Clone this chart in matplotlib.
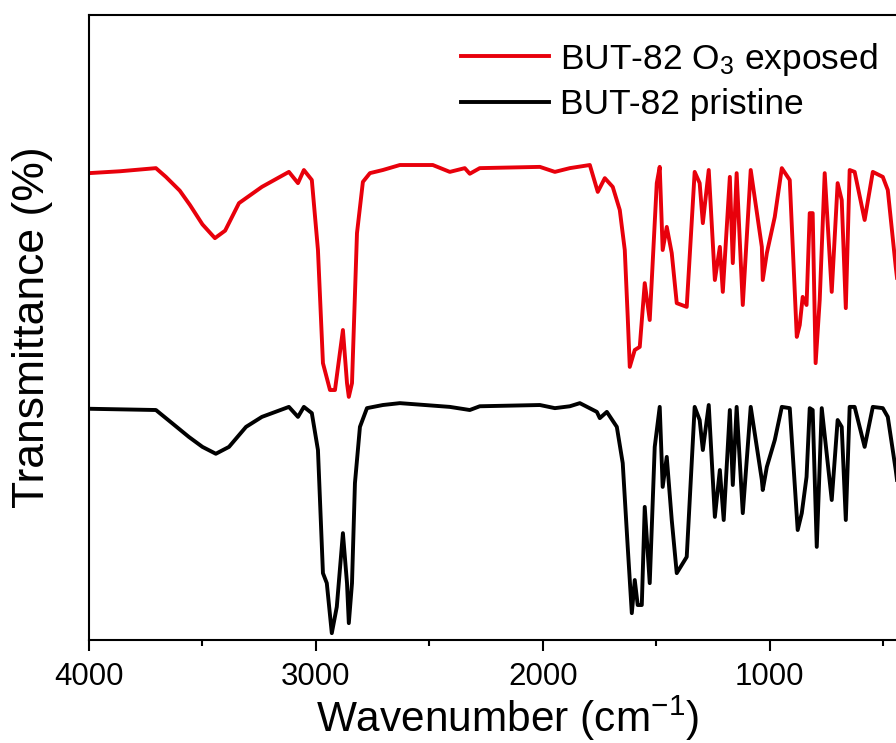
import matplotlib
matplotlib.use("Agg")
import matplotlib.pyplot as plt
from matplotlib.ticker import MultipleLocator

plt.rcParams['font.family'] = ['Liberation Sans', 'DejaVu Sans']
plt.rcParams['mathtext.fontset'] = 'custom'
plt.rcParams['mathtext.rm'] = 'Liberation Sans'
plt.rcParams['mathtext.it'] = 'Liberation Sans:italic'

# BUT-82 after O3 exposure (offset trace)
wn_exposed = [4000, 3863, 3705, 3661, 3600, 3555, 3500, 3445, 3400, 3339, 3238, 3119, 3079, 3053, 3018,
              2991, 2969, 2938, 2916, 2881, 2863, 2855, 2841, 2819, 2793, 2762, 2705,
              2630, 2485, 2410, 2344, 2322, 2278, 2013, 1947, 1881, 1793, 1758, 1727,
              1692, 1661, 1639, 1626, 1617, 1595, 1573, 1551, 1529, 1498, 1485, 1472,
              1454, 1432, 1410, 1366, 1331, 1309, 1295, 1269, 1242, 1220, 1207, 1176,
              1163, 1146, 1119, 1084, 1035, 1031, 1013, 978, 947, 912, 881, 868, 855,
              838, 824, 811, 798, 780, 758, 727, 701, 683, 665, 648, 626, 582, 546,
              502, 480, 445, 428]
t_exposed = [74.7, 75.0, 75.5, 74.1, 71.9, 69.6, 66.5, 64.3, 65.5, 69.9, 72.5, 74.9, 73.1, 75.2, 73.6,
             62.4, 44.3, 40.0, 40.0, 49.6, 41.1, 38.9, 41.1, 65.1, 73.3, 74.7, 75.2,
             76.0, 76.0, 74.9, 75.5, 74.6, 75.5, 75.7, 74.9, 75.5, 76.0, 71.7, 73.9,
             72.5, 68.8, 62.4, 51.7, 43.7, 46.4, 46.9, 57.1, 51.2, 73.1, 75.7, 62.4,
             66.1, 61.9, 53.9, 53.3, 74.9, 73.1, 66.7, 75.2, 57.6, 62.9, 55.7, 74.1,
             60.3, 74.7, 53.6, 75.2, 62.9, 57.6, 61.9, 67.7, 75.5, 73.6, 48.5, 50.4, 54.9,
             53.6, 68.3, 68.3, 44.3, 54.4, 74.7, 55.7, 73.1, 70.4, 53.1, 75.2, 74.9, 67.2, 74.9,
             74.1, 72.0, 59.7, 54.4]

# BUT-82 pristine
wn_pristine = [4000, 3705, 3634, 3560, 3500, 3441, 3383, 3308, 3238, 3119, 3079, 3053, 3018,
               2991, 2969, 2952, 2930, 2908, 2881, 2863, 2855, 2841, 2828, 2806, 2775,
               2705, 2630, 2410, 2322, 2278, 2013, 1947, 1881, 1837, 1762, 1749, 1718,
               1674, 1648, 1626, 1608, 1595, 1582, 1564, 1551, 1529, 1507, 1485, 1472,
               1454, 1432, 1410, 1366, 1331, 1309, 1295, 1269, 1242, 1220, 1203, 1176,
               1163, 1146, 1119, 1084, 1035, 1031, 1013, 978, 947, 912, 877, 859, 838,
               824, 811, 793, 771, 727, 701, 683, 665, 648, 626, 582, 546, 502, 480,
               445, 428]
t_pristine = [37.0, 36.8, 34.7, 32.5, 30.9, 29.8, 30.9, 34.1, 35.7, 37.3, 35.7, 37.3, 36.3,
              30.4, 10.7, 9.1, 1.1, 5.3, 17.1, 9.1, 2.7, 9.1, 25.1, 34.1, 37.1,
              37.6, 37.9, 37.3, 36.8, 37.4, 37.6, 37.1, 37.4, 37.9, 36.5, 35.5, 36.5,
              34.1, 28.3, 14.9, 4.3, 9.6, 5.6, 5.6, 21.3, 9.1, 30.9, 37.3, 24.5,
              29.3, 19.2, 10.7, 13.3, 37.3, 35.2, 30.4, 37.6, 19.7, 27.2, 19.2, 36.8,
              24.8, 37.3, 20.3, 37.3, 25.6, 24.0, 27.7, 32.0, 37.3, 37.1, 17.6, 20.3, 26.1,
              37.1, 36.8, 14.9, 37.1, 22.4, 35.2, 34.1, 19.2, 37.3, 37.3, 30.9, 37.3, 37.1, 35.7,
              27.2, 22.4]

fig = plt.figure(figsize=(8.96, 7.43), dpi=100)
ax = fig.add_axes([0.0993, 0.1386, 0.9118, 0.8412])

ax.plot(wn_exposed, t_exposed, color='#e8000b', lw=2.8, solid_joinstyle='round',
        label='BUT-82 O$_3$ exposed')
ax.plot(wn_pristine, t_pristine, color='black', lw=2.8, solid_joinstyle='round',
        label='BUT-82 pristine')

ax.set_xlim(4000, 400)
ax.set_ylim(0, 100)
ax.xaxis.set_major_locator(MultipleLocator(1000))
ax.xaxis.set_minor_locator(MultipleLocator(500))
ax.set_yticks([])
ax.tick_params(axis='x', which='major', length=8, width=1.5, labelsize=22.5, pad=8)
ax.tick_params(axis='x', which='minor', length=4, width=1.5)
for s in ax.spines.values():
    s.set_linewidth(1.5)

ax.set_xlabel('Wavenumber (cm$^{-1}$)', fontsize=30.5)
ax.xaxis.set_label_coords(0.512, -0.086)
ax.set_ylabel('Transmittance (%)', fontsize=32, labelpad=26)

ax.legend(loc='upper right', bbox_to_anchor=(1.015, 0.988), bbox_transform=fig.transFigure,
          frameon=False, fontsize=25.5, handlelength=2.5, handletextpad=0.3, labelspacing=0.3)

fig.savefig('out.png', dpi=100)
